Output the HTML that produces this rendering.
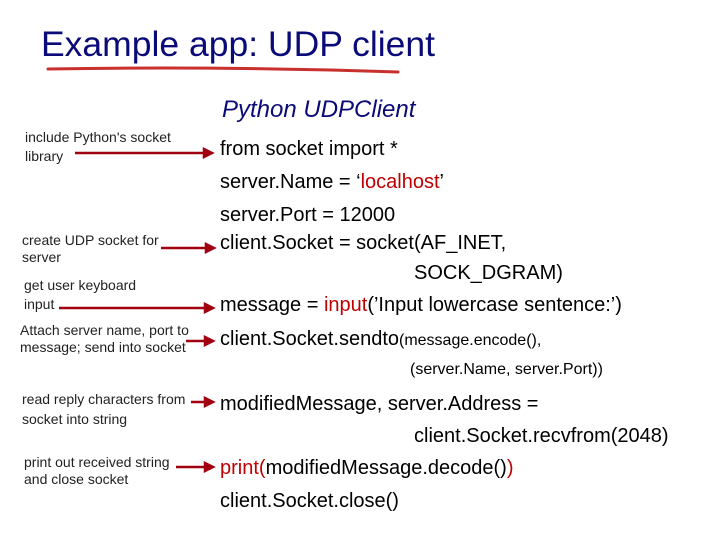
<!DOCTYPE html>
<html><head><meta charset="utf-8"><style>
body{margin:0;width:720px;height:540px;background:#fff;position:relative;overflow:hidden;font-family:"Liberation Sans",sans-serif}
.t{position:absolute;white-space:nowrap;line-height:1}
.c{font-size:20px;color:#000}
.l{font-size:14px;color:#222;line-height:19px}
.r{color:#c00000}
</style></head><body>
<div class="t" style="left:41px;top:27px;font-size:35.5px;color:#0a0a78">Example app: UDP client</div>
<svg style="position:absolute;left:0;top:0" width="720" height="540">
<path d="M48 69 Q220 66 398 72" stroke="#c8302e" stroke-width="3" fill="none" stroke-linecap="round"/>
<g stroke="#a00010" stroke-width="2.5" fill="#a00010">
<line x1="75" y1="153" x2="207" y2="153"/><polygon points="212,153 204,149 204,157"/>
<line x1="161" y1="248" x2="209" y2="248"/><polygon points="214,248 206,244 206,252"/>
<line x1="59" y1="308" x2="208" y2="308"/><polygon points="213,308 205,304 205,312"/>
<line x1="186" y1="341" x2="208" y2="341"/><polygon points="213,341 205,337 205,345"/>
<line x1="191" y1="402" x2="208" y2="402"/><polygon points="213,402 205,398 205,406"/>
<line x1="176" y1="467" x2="208" y2="467"/><polygon points="213,467 205,463 205,471"/>
</g></svg>
<div class="t" style="left:222px;top:98px;font-size:24px;font-style:italic;color:#0a0a78">Python UDPClient</div>
<div class="t l" style="left:25px;top:128px">include Python's socket<br>library</div>
<div class="t l" style="left:22px;top:232px;line-height:17px">create UDP socket for<br>server</div>
<div class="t l" style="left:24px;top:276px">get user keyboard<br>input</div>
<div class="t l" style="left:20px;top:322px;line-height:17px">Attach server name, port to<br>message; send into socket</div>
<div class="t l" style="left:22px;top:389px;line-height:20px">read reply characters from<br>socket into string</div>
<div class="t l" style="left:24px;top:454px;line-height:17px">print out received string<br>and close socket</div>
<div class="t c" style="left:220px;top:139px">from socket import *</div>
<div class="t c" style="left:220px;top:172px">server.Name = ‘<span class="r">localhost</span>’</div>
<div class="t c" style="left:220px;top:205px">server.Port = 12000</div>
<div class="t c" style="left:220px;top:233px">client.Socket = socket(AF_INET,</div>
<div class="t c" style="left:414px;top:263px">SOCK_DGRAM)</div>
<div class="t c" style="left:220px;top:295px">message = <span class="r">input</span>(’Input lowercase sentence:’)</div>
<div class="t c" style="left:220px;top:329px">client.Socket.sendto<span style="font-size:16px">(message.encode(),</span></div>
<div class="t" style="left:410px;top:362px;font-size:16px">(server.Name, server.Port))</div>
<div class="t c" style="left:220px;top:394px">modifiedMessage, server.Address =</div>
<div class="t c" style="left:414px;top:426px">client.Socket.recvfrom(2048)</div>
<div class="t c" style="left:220px;top:458px"><span class="r">print(</span>modifiedMessage.decode()<span class="r">)</span></div>
<div class="t c" style="left:220px;top:491px">client.Socket.close()</div>
</body></html>
